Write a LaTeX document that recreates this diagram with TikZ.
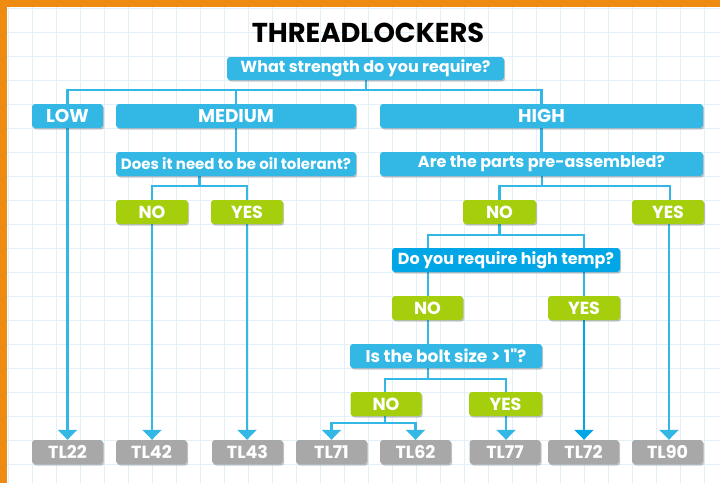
\documentclass[tikz,border=0pt]{standalone}
\usepackage{fontspec}
\newfontfamily\pop{Poppins}
\usetikzlibrary{arrows.meta,shadows}
\definecolor{qblue}{HTML}{33B8E6}
\definecolor{dblue}{HTML}{00A6E6}
\definecolor{qgreen}{HTML}{A5CF0C}
\definecolor{qgray}{HTML}{A8A8A8}
\definecolor{qorange}{HTML}{EE8B12}
\definecolor{qgrid}{HTML}{E2F0FA}
\pgfdeclarelayer{bg}
\pgfdeclarelayer{edges}
\pgfsetlayers{bg,edges,main}
\tikzset{
  base/.style={rounded corners=3pt, text=white, inner sep=0pt, minimum height=24pt,
    font=\pop\bfseries\fontsize{16}{18}\selectfont,
    drop shadow={shadow xshift=1.2pt, shadow yshift=-1.5pt, fill=black, opacity=0.22}},
  qbox/.style={base, fill=qblue},
  cbox/.style={base, fill=qblue, font=\pop\bfseries\fontsize{18.5}{20}\selectfont},
  dbox/.style={base, fill=dblue},
  gbox/.style={base, fill=qgreen, minimum width=72pt, font=\pop\bfseries\fontsize{17.5}{20}\selectfont},
  tbox/.style={base, fill=qgray, minimum width=71pt, font=\pop\bfseries\fontsize{17.5}{20}\selectfont},
  conn/.style={draw=qblue, line width=2.5pt},
  dconn/.style={draw=dblue, line width=2.5pt},
  arr/.style={-{Triangle[width=19pt,length=10pt]}},
}
\begin{document}
\begin{tikzpicture}[x=1pt,y=-1pt]
\useasboundingbox (0,0) rectangle (720,483);
\begin{pgfonlayer}{bg}
  \fill[white] (0,0) rectangle (720,483);
  \foreach \i in {0,...,29} \draw[qgrid, line width=1pt] ({8+24*\i},0) -- ({8+24*\i},483);
  \foreach \i in {0,...,19} \draw[qgrid, line width=1pt] (0,{8+24*\i}) -- (720,{8+24*\i});
  \fill[qorange] (0,0) rectangle (720,7);
  \fill[qorange] (0,0) rectangle (7,483);
\end{pgfonlayer}

\node[font=\pop\bfseries\fontsize{27.3}{30}\selectfont, text=black] (title) at (368,33) {THREADLOCKERS};

\node[qbox, minimum width=277pt, minimum height=23pt] (q1) at (365.5,68.5) {What strength do you require?};
\node[cbox, minimum width=71pt] (low) at (67.5,116) {LOW};
\node[cbox, minimum width=240pt] (med) at (236,116) {MEDIUM};
\node[cbox, minimum width=323pt] (high) at (541.5,116) {HIGH};
\node[qbox, minimum width=240pt, font=\pop\bfseries\fontsize{15}{17}\selectfont] (q2) at (236,164) {Does it need to be oil tolerant?};
\node[qbox, minimum width=323pt] (q3) at (541.5,164) {Are the parts pre-assembled?};
\node[gbox] (no1) at (152,212) {NO};
\node[gbox] (yes1) at (247,212) {YES};
\node[gbox, minimum width=73pt] (no2) at (499.5,212) {NO};
\node[gbox] (yes2) at (668,212) {YES};
\node[dbox, minimum width=228pt] (q4) at (506,260) {Do you require high temp?};
\node[gbox, minimum width=71pt] (no3) at (427.5,308) {NO};
\node[gbox] (yes3) at (584,308) {YES};
\node[qbox, minimum width=192pt, font=\pop\bfseries\fontsize{17}{19}\selectfont] (q5) at (446,356) {Is the bolt size > 1"?};
\node[gbox, minimum width=71pt] (no4) at (386,404) {NO};
\node[gbox, minimum width=73pt] (yes4) at (505.5,404) {YES};

\node[tbox] (tl22) at (67.5,452) {TL22};
\node[tbox] (tl42) at (151.5,452) {TL42};
\node[tbox] (tl43) at (247.5,452) {TL43};
\node[tbox] (tl71) at (331.5,452) {TL71};
\node[tbox] (tl62) at (415.5,452) {TL62};
\node[tbox] (tl77) at (505,452) {TL77};
\node[tbox] (tl72) at (583.5,452) {TL72};
\node[tbox] (tl90) at (667.5,452) {TL90};

\coordinate (j1) at (366,90);
\coordinate (j2) at (199.5,186);
\coordinate (j3) at (542,186);
\coordinate (j4) at (499.5,235);
\coordinate (j5) at (428,379);
\coordinate (j6) at (385,423);

\begin{pgfonlayer}{edges}
  \draw[conn] (q1.south -| j1) -- (j1);
  \draw[conn] (low.north) |- (j1) -| (high.north);
  \draw[conn] (med.north) -- (med.north |- j1);
  \draw[conn] (med.south) -- (q2.north);
  \draw[conn] (high.south) -- (q3.north);
  \draw[conn] (q2.south -| j2) -- (j2);
  \draw[conn] (no1.north) |- (j2) -| (yes1.north);
  \draw[conn] (q3.south -| j3) -- (j3);
  \draw[conn] (no2.north) |- (j3) -| (yes2.north -| 670,0);
  \draw[conn] (no2.south) -- (j4);
  \draw[conn] (no3.north -| 428,0) |- (j4) -| (yes3.north);
  \draw[conn] (no3.south -| 428,0) -- (q5.north -| 428,0);
  \draw[conn] (q5.south -| j5) -- (j5);
  \draw[conn] (no4.north -| j6) |- (j5) -| (yes4.north -| 506,0);
  \draw[conn] (no4.south -| j6) -- (j6);
  \draw[conn, arr] (j6) -| (tl71.north);
  \draw[conn, arr] (j6) -| (tl62.north);
  \draw[conn, arr] (yes4.south -| 506,0) -- (tl77.north -| 506,0);
  \draw[conn, arr] (low.south) -- (tl22.north -| low.south);
  \draw[conn, arr] (no1.south) -- (tl42.north -| no1.south);
  \draw[conn, arr] (yes1.south) -- (tl43.north -| yes1.south);
  \draw[dconn, arr] (yes3.south) -- (tl72.north -| yes3.south);
  \draw[conn, arr] (yes2.south -| 669,0) -- (tl90.north -| 669,0);
\end{pgfonlayer}
\end{tikzpicture}
\end{document}
